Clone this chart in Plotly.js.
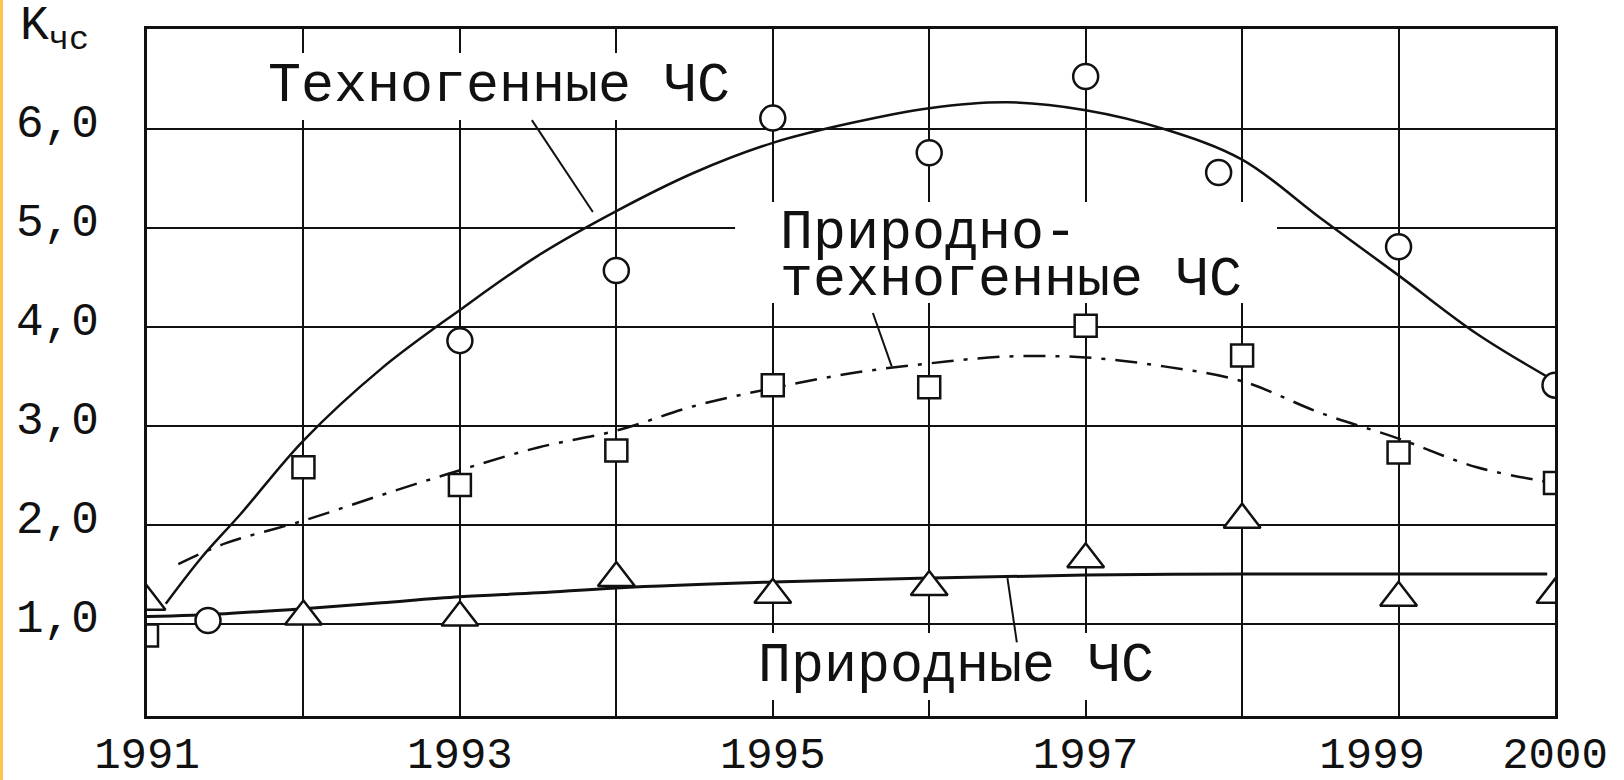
<!DOCTYPE html>
<html>
<head>
<meta charset="utf-8">
<script src="https://cdn.plot.ly/plotly-3.0.1.min.js"></script>
<style>
html,body{margin:0;padding:0;background:#fff;}
#chart{width:1624px;height:780px;}
#edge{position:absolute;left:0;top:0;width:3px;height:780px;background:#FFC44D;}
</style>
</head>
<body>
<div id="chart"></div>
<div id="edge"></div>
<script>
// Axis ticks
const gridYears = [1991, 1992, 1993, 1994, 1995, 1996, 1997, 1998, 1999, 2000];
const labelYears = [1991, 1993, 1995, 1997, 1999, 2000];
const yearLabels = ['1991', '1993', '1995', '1997', '1999\u00a0\u00a0', '2000'];
const levels = [1, 2, 3, 4, 5, 6];
const levelLabels = ['1,0', '2,0', '3,0', '4,0', '5,0', '6,0'];

// Техногенные ЧС (circles) and fitted curve
const techYears = [1991.39, 1993, 1994, 1995, 1996, 1997, 1997.85, 1999, 2000];
const techValues = [1.03, 3.86, 4.57, 6.11, 5.76, 6.53, 5.56, 4.81, 3.41];
const techFitYears = [1991.12, 1991.35, 1991.6, 1992, 1992.5, 1993, 1993.5, 1994, 1994.5, 1995, 1995.5, 1996, 1996.5, 1997, 1997.5, 1998, 1998.5, 1999, 1999.5, 2000];
const techFitValues = [1.2, 1.67, 2.11, 2.85, 3.58, 4.17, 4.72, 5.17, 5.56, 5.86, 6.06, 6.21, 6.27, 6.19, 6.0, 5.69, 5.1, 4.52, 3.93, 3.45];

// Природно-техногенные ЧС (squares) and fitted curve
const mixYears = [1991, 1992, 1993, 1994, 1995, 1996, 1997, 1998, 1999, 2000];
const mixValues = [0.88, 2.58, 2.40, 2.75, 3.41, 3.39, 4.01, 3.71, 2.73, 2.42];
const mixFitYears = [1991.2, 1991.5, 1992, 1992.5, 1993, 1993.5, 1994, 1994.5, 1995, 1995.5, 1996, 1996.5, 1997, 1997.5, 1998, 1998.5, 1999, 1999.5, 2000];
const mixFitValues = [1.6, 1.81, 2.04, 2.3, 2.55, 2.78, 2.95, 3.2, 3.38, 3.53, 3.63, 3.7, 3.69, 3.6, 3.45, 3.13, 2.87, 2.58, 2.42];

// Природные ЧС (triangles) and fitted curve
const natYears = [1991, 1992, 1993, 1994, 1995, 1996, 1997, 1998, 1999, 2000];
const natValues = [1.22, 1.07, 1.06, 1.46, 1.29, 1.37, 1.65, 2.05, 1.26, 1.29];
const natFitYears = [1991, 1991.5, 1992, 1992.5, 1993, 1993.5, 1994, 1995, 1996, 1997, 1998, 1999, 1999.95];
const natFitValues = [1.07, 1.1, 1.15, 1.21, 1.27, 1.31, 1.36, 1.42, 1.46, 1.49, 1.5, 1.5, 1.5];

// Labels
const yTitle = 'K<sub>чс</sub>';
const techLabel = 'Техногенные ЧС';
const mixLabelLines = ['Природно-', 'техногенные ЧС'];
const natLabel = 'Природные ЧС';

const FONT = 'Liberation Mono, Courier New, monospace';
const INK = '#111';

const traces = [
  {x: techFitYears, y: techFitValues, mode: 'lines', line: {color: INK, width: 2.5, shape: 'spline', smoothing: 1}, hoverinfo: 'skip'},
  {x: mixFitYears, y: mixFitValues, mode: 'lines', line: {color: INK, width: 2.5, shape: 'spline', smoothing: 1, dash: '22px,10px,4px,10px'}, hoverinfo: 'skip'},
  {x: natFitYears, y: natFitValues, mode: 'lines', line: {color: INK, width: 3, shape: 'spline', smoothing: 1}, hoverinfo: 'skip'},
  {x: techYears, y: techValues, mode: 'markers', marker: {symbol: 'circle', size: 25, color: '#fff', line: {color: INK, width: 2.5}}},
  {x: mixYears, y: mixValues, mode: 'markers', marker: {symbol: 'square', size: 22, color: '#fff', line: {color: INK, width: 2.5}}},
  {x: natYears, y: natValues, mode: 'markers', marker: {symbol: 'triangle-up', size: 32, color: '#fff', line: {color: INK, width: 2.5}}}
];

const labelFont = {family: FONT, size: 55, color: INK};

// white label boxes that interrupt the grid, and leader lines
const box = (x0, x1, y0, y1) => ({type: 'rect', xref: 'x', yref: 'y', x0: x0, x1: x1, y0: y0, y1: y1,
  fillcolor: '#fff', line: {width: 0}, layer: 'above'});
const leader = (x0, y0, x1, y1) => ({type: 'line', xref: 'x', yref: 'y', x0: x0, y0: y0, x1: x1, y1: y1,
  line: {color: INK, width: 2}, layer: 'above'});

const shapes = [
  box(1991.754, 1994.823, 6.091, 6.769),
  box(1994.759, 1998.223, 4.241, 5.262),
  box(1994.727, 1997.622, 0.227, 0.904),
  leader(1993.46, 6.09, 1993.85, 5.16),
  leader(1995.64, 4.14, 1995.76, 3.6),
  leader(1996.56, 0.81, 1996.5, 1.46)
];

// two-line label: line spacing follows the small base size, glyphs use the big size
const mixText = mixLabelLines.map(s => '<span style="font-size:55px">' + s + '</span>').join('<br>');

const annotations = [
  {x: 1993.25, y: 6.43, xref: 'x', yref: 'y', text: techLabel, showarrow: false, font: labelFont},
  {x: 1995.034, y: 4.707, xref: 'x', yref: 'y', xanchor: 'left', yanchor: 'middle', align: 'left',
   text: mixText, showarrow: false, font: {family: FONT, size: 36, color: INK}},
  {x: 1996.17, y: 0.565, xref: 'x', yref: 'y', text: natLabel, showarrow: false, font: labelFont},
  {x: -0.0916, y: 1.0, xref: 'paper', yref: 'paper', xanchor: 'left', yanchor: 'middle', text: yTitle,
   showarrow: false, font: {family: FONT, size: 48, color: INK}}
];

const layout = {
  width: 1624, height: 780,
  margin: {l: 147, r: 69, t: 29, b: 64, pad: 0},
  paper_bgcolor: '#fff', plot_bgcolor: '#fff',
  showlegend: false,
  xaxis: {
    range: [1991, 2000], tickmode: 'array', tickvals: labelYears, ticktext: yearLabels,
    showgrid: true, gridcolor: INK, gridwidth: 2, zeroline: false,
    minor: {tickmode: 'array', tickvals: gridYears, showgrid: true, gridcolor: INK, gridwidth: 2, ticks: ''},
    showline: true, linecolor: INK, linewidth: 3, mirror: true, ticks: '',
    tickfont: {family: FONT, size: 44, color: INK}, ticklabelstandoff: -4
  },
  yaxis: {
    range: [0.065, 7.011], tickmode: 'array', tickvals: levels, ticktext: levelLabels,
    showgrid: true, gridcolor: INK, gridwidth: 2, zeroline: false,
    showline: true, linecolor: INK, linewidth: 3, mirror: true, ticks: '',
    tickfont: {family: FONT, size: 46, color: INK}, ticklabelstandoff: 36, ticklabelshift: -8
  },
  shapes: shapes,
  annotations: annotations
};

Plotly.newPlot('chart', traces, layout, {displayModeBar: false, staticPlot: true});
</script>
</body>
</html>
